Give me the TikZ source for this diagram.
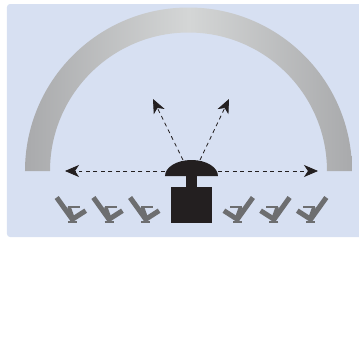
\documentclass[tikz,border=0pt]{standalone}
\usetikzlibrary{arrows.meta}
\definecolor{panelblue}{HTML}{D7E0F2}
\definecolor{chairgrey}{HTML}{6D6E70}
\definecolor{darkbody}{HTML}{231F20}
\definecolor{archside}{HTML}{A9AAAC}
\definecolor{archmid}{HTML}{D4D6D6}
\tikzset{
    beam/.style={dashed, dash pattern=on 4pt off 3.5pt, line width=0.8pt, color=darkbody,
        -{Stealth[length=14pt, width=12pt, inset=4pt]}},
    chairpart/.style={draw=chairgrey, line width=5pt},
    chairline/.style={draw=chairgrey, line width=1.6pt}
}
\begin{document}
\begin{tikzpicture}[x=1pt, y=1pt]
    \useasboundingbox (0,0) rectangle (359,360);

    % Nền xanh
    \fill[panelblue, rounded corners=3pt] (7,123) rectangle (362,356);
    \fill[white] (359,120) rectangle (362,360);

    % Định nghĩa các điểm
    \coordinate (DomeL) at (165,184);
    \coordinate (DomeR) at (218,184);
    \coordinate (BeamUL) at (183,200);
    \coordinate (BeamUR) at (200,200);
    \coordinate (TipL) at (65,189);
    \coordinate (TipR) at (318,189);
    \coordinate (TipUL) at (153,261);
    \coordinate (TipUR) at (229,261);

    % 1. Cung xám
    \shade[left color=archside, right color=archside, middle color=archmid]
        (25,189) arc (180:0:163.5) -- (327,189) arc (0:180:138.5) -- cycle;

    % 2. Các mũi tên
    \draw[beam] (DomeL |- TipL) -- (TipL);
    \draw[beam] (DomeR |- TipR) -- (TipR);
    \draw[beam] (BeamUL) -- (TipUL);
    \draw[beam] (BeamUR) -- (TipUR);

    % 3. Thân
    \fill[darkbody] (DomeL) arc (180:0:26.5 and 16) -- cycle;
    \fill[darkbody] (186,185) rectangle (197,172);
    \fill[darkbody] (171,173) rectangle (212,137);

    % 4. Ghế hai bên
    \foreach \side/\offset in {1/0, 1/36.7, 1/73.4, -1/0, -1/36.7, -1/73.4} {
        \begin{scope}[shift={(191.5,0)}, xscale=\side, shift={(-136.5+\offset,0)}]
            \draw[chairpart] (1.7,162.5) -- (17.3,140.7) -- (30.7,149.3);
            \draw[chairpart, line width=3pt] (17,141) -- (17,138.5);
            \draw[chairline] (13,138) -- (22,138);
            \draw[chairline] (13,153) -- (25,153);
            \draw[chairpart, line width=3.5pt] (14,153) -- (18,142);
        \end{scope}
    }
\end{tikzpicture}
\end{document}
